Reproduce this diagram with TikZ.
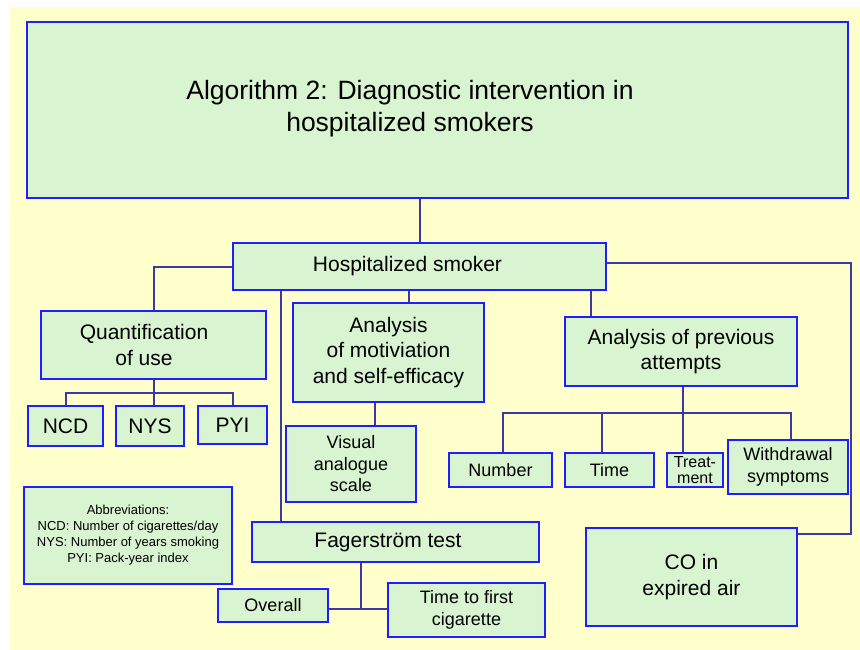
\documentclass[tikz,border=0pt]{standalone}
\usepackage{fontspec}
\setmainfont{Liberation Sans}
\usepackage{tikz}

\definecolor{bgyellow}{HTML}{FFFFCC}
\definecolor{boxgreen}{HTML}{D8F4D0}
\definecolor{boxblue}{HTML}{1E1EFF}
\definecolor{linkblue}{HTML}{3A3AA0}

\tikzset{
    txt/.style={align=center, font=\fontsize{21}{25.5}\selectfont},
    box/.style={txt, draw=boxblue, fill=boxgreen, line width=2pt, inner sep=0pt},
    smallbox/.style={box, font=\fontsize{18}{21.5}\selectfont},
    link/.style={draw=linkblue, line width=2pt},
}

\begin{document}
\begin{tikzpicture}[x=1pt, y=-1pt]
    \fill[white] (0,0) rectangle (860,650);
    \fill[bgyellow] (10,7) rectangle (860,650);
    \useasboundingbox (0,0) rectangle (860,650);

    % boxes
    \node[box, minimum width=821pt, minimum height=176pt] (title) at (437.5,110) {};
    \node[txt, font=\fontsize{26.5}{32}\selectfont] (titletext) at (410,109) {Algorithm 2: Diagnostic intervention in\\hospitalized smokers};
    \node[box, minimum width=373pt, minimum height=47pt, label={[txt, xshift=-12pt]center:Hospitalized smoker}] (hosp) at (419.5,266.5) {};
    \node[box, minimum width=225pt, minimum height=68pt, label={[txt, xshift=-9.5pt]center:Quantification\\of use}] (quant) at (153.5,345) {};
    \node[box, minimum width=191pt, minimum height=99pt] (motiv) at (388.5,352.5) {Analysis\\of motiviation\\and self-efficacy};
    \node[box, minimum width=232pt, minimum height=69pt] (attempts) at (681,351.5) {Analysis of previous\\attempts};
    \node[box, minimum width=75pt, minimum height=40pt] (ncd) at (65.5,426) {NCD};
    \node[box, minimum width=68pt, minimum height=40pt] (nys) at (150,426) {NYS};
    \node[box, minimum width=69pt, minimum height=38pt] (pyi) at (232.5,425) {PYI};
    \node[smallbox, minimum width=130pt, minimum height=76pt] (vas) at (351,464) {Visual\\analogue\\scale};
    \node[smallbox, minimum width=103pt, minimum height=34pt] (number) at (500.5,470) {Number};
    \node[smallbox, minimum width=89pt, minimum height=34pt] (time) at (609.5,470) {Time};
    \node[box, font=\fontsize{16}{15.5}\selectfont, minimum width=56pt, minimum height=34pt] (treat) at (695,470) {Treat-\\ment};
    \node[smallbox, minimum width=120pt, minimum height=54pt] (withdr) at (788,467) {Withdrawal\\symptoms};
    \node[box, font=\fontsize{13}{16}\selectfont, minimum width=208pt, minimum height=97pt] (abbrev) at (128,535.5) {Abbreviations:\\NCD: Number of cigarettes/day\\NYS: Number of years smoking\\PYI: Pack-year index};
    \node[box, minimum width=287pt, minimum height=40pt, label={[txt, xshift=-7.5pt]center:Fagerström test}] (fager) at (395.5,542) {};
    \node[box, minimum width=211pt, minimum height=98pt] (co) at (691.5,577) {CO in\\expired air};
    \node[smallbox, minimum width=110pt, minimum height=33pt] (overall) at (273,605.5) {Overall};
    \node[smallbox, minimum width=157pt, minimum height=54pt] (ttfc) at (466.5,610) {Time to first\\cigarette};

    % connectors
    \coordinate (fline) at (281,0);
    \coordinate (mline) at (409,0);
    \coordinate (aline) at (591,0);
    \coordinate (vline) at (375,0);
    \coordinate (tline) at (683,0);
    \coordinate (qbus) at (0,393);
    \coordinate (abus) at (0,413);
    \coordinate (rtop) at (851,263);
    \coordinate (rbot) at (851,534);
    \coordinate (fbus) at (361,609);

    \draw[link] (title.south -| hosp.north) -- (hosp.north);
    \draw[link] (hosp.west) -| (quant.north);
    \draw[link] (hosp.south -| fline) -- (fager.north -| fline);
    \draw[link] (hosp.south -| mline) -- (motiv.north -| mline);
    \draw[link] (hosp.south -| aline) -- (attempts.north -| aline);
    \draw[link] (rtop -| hosp.east) -- (rtop) -- (rbot) -- (rbot -| co.east);

    \draw[link] (quant.south) -- (quant.south |- nys.north);
    \draw[link] (ncd.north) |- (qbus -| pyi.north) -- (pyi.north);

    \draw[link] (motiv.south -| vline) -- (vas.north -| vline);

    \draw[link] (attempts.south -| tline) -- (treat.north -| tline);
    \draw[link] ([xshift=2.5pt]number.north) |- ([xshift=3pt]abus -| withdr.north) -- ([xshift=3pt]withdr.north);
    \draw[link] ([xshift=-7.5pt]time.north) -- ([xshift=-7.5pt]time.north |- abus);

    \draw[link] (fager.south -| fbus) -- (fbus);
    \draw[link] (overall.east |- fbus) -- (ttfc.west |- fbus);
\end{tikzpicture}
\end{document}
